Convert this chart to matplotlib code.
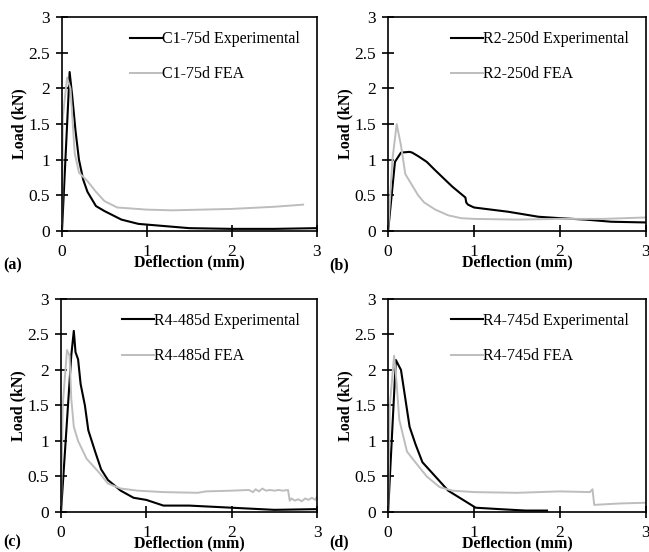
import matplotlib
matplotlib.use("Agg")
import matplotlib.pyplot as plt

plt.rcParams['font.family'] = ['Liberation Serif', 'DejaVu Serif']
plt.rcParams['font.size'] = 11.5

# (a) C1-75d
a_exp_x = [0, 0.09, 0.12, 0.16, 0.2, 0.25, 0.3, 0.4, 0.5, 0.6, 0.7, 0.9, 1.0, 1.5, 2.0, 2.5, 3.0]
a_exp_y = [0, 2.23, 1.9, 1.4, 1.0, 0.72, 0.55, 0.35, 0.28, 0.22, 0.16, 0.1, 0.09, 0.04, 0.03, 0.03, 0.04]
a_fea_x = [0, 0.01, 0.06, 0.1, 0.15, 0.2, 0.3, 0.4, 0.5, 0.65, 1.0, 1.3, 2.0, 2.5, 2.84]
a_fea_y = [0, 1.6, 2.15, 2.0, 1.09, 0.82, 0.7, 0.55, 0.42, 0.33, 0.3, 0.29, 0.31, 0.34, 0.37]

# (b) R2-250d
b_exp_x = [0, 0.08, 0.15, 0.25, 0.28, 0.35, 0.45, 0.55, 0.68, 0.75, 0.9, 0.91, 0.93, 1.0, 1.2, 1.4, 1.55, 1.75, 2.0, 2.3, 2.6, 3.0]
b_exp_y = [0, 0.97, 1.1, 1.11, 1.1, 1.05, 0.97, 0.85, 0.7, 0.62, 0.47, 0.4, 0.37, 0.33, 0.3, 0.27, 0.24, 0.2, 0.18, 0.16, 0.13, 0.12]
b_fea_x = [0, 0.05, 0.1, 0.15, 0.2, 0.25, 0.35, 0.42, 0.55, 0.7, 0.85, 1.0, 1.5, 2.0, 2.5, 3.0]
b_fea_y = [0, 1.0, 1.5, 1.2, 0.8, 0.7, 0.5, 0.4, 0.3, 0.22, 0.18, 0.17, 0.16, 0.17, 0.17, 0.19]

# (c) R4-485d
c_exp_x = [0, 0.12, 0.15, 0.17, 0.2, 0.23, 0.28, 0.32, 0.4, 0.47, 0.55, 0.7, 0.85, 1.0, 1.2, 1.5, 2.0, 2.5, 3.0]
c_exp_y = [0, 2.2, 2.55, 2.25, 2.15, 1.8, 1.5, 1.15, 0.85, 0.6, 0.45, 0.3, 0.2, 0.17, 0.09, 0.09, 0.06, 0.03, 0.04]
c_fea_x = [0, 0.02, 0.07, 0.1, 0.12, 0.15, 0.2, 0.3, 0.45, 0.55, 0.7, 0.9, 1.2, 1.6, 1.7, 2.0, 2.2, 2.25, 2.28, 2.32, 2.36, 2.4, 2.45, 2.5, 2.55, 2.6, 2.66,
           2.68, 2.7, 2.74, 2.78, 2.82, 2.86, 2.9, 2.94, 2.98, 3.0]
c_fea_y = [0, 1.5, 2.28, 2.2, 1.6, 1.2, 1.0, 0.75, 0.55, 0.4, 0.33, 0.3, 0.28, 0.27, 0.29, 0.3, 0.31, 0.28, 0.32, 0.29, 0.33, 0.3, 0.31, 0.3, 0.31, 0.3, 0.31,
           0.16, 0.19, 0.16, 0.18, 0.15, 0.19, 0.17, 0.2, 0.17, 0.22]

# (d) R4-745d
d_exp_x = [0, 0.09, 0.15, 0.2, 0.25, 0.32, 0.4, 0.55, 0.7, 0.9, 1.02, 1.3, 1.6, 1.85]
d_exp_y = [0, 2.14, 2.0, 1.6, 1.2, 0.95, 0.7, 0.5, 0.3, 0.15, 0.06, 0.04, 0.02, 0.02]
d_fea_x = [0, 0.02, 0.07, 0.1, 0.13, 0.17, 0.22, 0.35, 0.45, 0.6, 0.75, 1.0, 1.5, 2.0, 2.35, 2.38, 2.4, 2.7, 3.0]
d_fea_y = [0, 1.5, 2.2, 1.8, 1.3, 1.1, 0.85, 0.65, 0.5, 0.35, 0.3, 0.28, 0.27, 0.29, 0.28, 0.32, 0.1, 0.12, 0.13]

# panel tag, specimen, data, axes rect, tag position (fig fraction)
panels = [
    ("(a)", "C1-75d", a_exp_x, a_exp_y, a_fea_x, a_fea_y, [0.0955, 0.5815, 0.3925, 0.3875], (0.005, 0.52)),
    ("(b)", "R2-250d", b_exp_x, b_exp_y, b_fea_x, b_fea_y, [0.598, 0.5815, 0.397, 0.3875], (0.508, 0.52)),
    ("(c)", "R4-485d", c_exp_x, c_exp_y, c_fea_x, c_fea_y, [0.094, 0.0725, 0.3945, 0.386], (0.005, 0.018)),
    ("(d)", "R4-745d", d_exp_x, d_exp_y, d_fea_x, d_fea_y, [0.598, 0.0725, 0.397, 0.386], (0.508, 0.018)),
]

fig = plt.figure(figsize=(6.49, 5.52), dpi=100)

for tag, name, ex, ey, fx, fy, rect, tagpos in panels:
    ax = fig.add_axes(rect)
    ax.plot(ex, ey, color='black', lw=1.5, label=name + " Experimental")
    ax.plot(fx, fy, color='#bdbdbd', lw=1.4, label=name + " FEA")
    ax.set_xlim(0, 3)
    ax.set_ylim(0, 3)
    ax.set_xticks([0, 1, 2, 3])
    ax.set_yticks([0, 0.5, 1, 1.5, 2, 2.5, 3])
    ax.set_yticklabels(['0', '0.5', '1', '1.5', '2', '2.5', '3'])
    ax.tick_params(direction='inout', length=9, width=1.2, labelsize=12.5)
    ax.tick_params(axis='x', pad=5)
    ax.tick_params(axis='y', pad=4)
    for s in ax.spines.values():
        s.set_linewidth(1.2)
    ax.set_xlabel("Deflection (mm)", fontweight='bold', labelpad=-4)
    ax.set_ylabel("Load (kN)", fontweight='bold', labelpad=1)
    ax.legend(loc='upper right', bbox_to_anchor=(0.976, 0.986), frameon=False,
              handlelength=2.0, handletextpad=0.0, labelspacing=1.2,
              borderaxespad=0.3, fontsize=11.5)
    fig.text(tagpos[0], tagpos[1], tag, fontweight='bold', fontsize=11.5,
             ha='left', va='center')

fig.savefig("out.png", dpi=100)
